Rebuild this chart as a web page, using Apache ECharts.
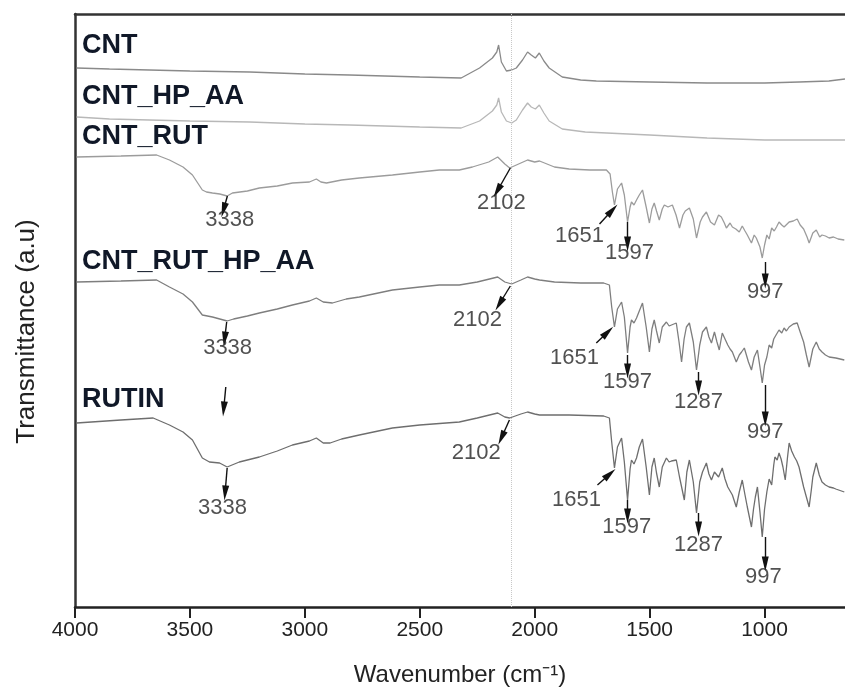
<!DOCTYPE html>
<html>
<head>
<meta charset="utf-8">
<script src="https://cdn.jsdelivr.net/npm/echarts@6/dist/echarts.min.js"></script>
<style>
  html, body { margin: 0; padding: 0; background: #fff; }
  #ftir { width: 845px; height: 695px; }
</style>
</head>
<body>
<div id="ftir"></div>
<script>
// spectra, [wavenumber, transmittance (a.u., stacked offset)]
var cnt = [
  [3993, 539], [3850, 538], [3676, 537], [3500, 536], [3240, 535], [3000, 533], [2805, 532],
  [2500, 530], [2320, 529], [2240, 539], [2184, 549], [2165, 555], [2157, 562], [2145, 545],
  [2123, 536], [2100, 537], [2080, 539], [2053, 547], [2031, 555], [2015, 552], [1997, 549],
  [1980, 554], [1960, 546], [1937, 539], [1880, 530], [1800, 527], [1732, 526], [1500, 525],
  [1250, 524], [1000, 524], [850, 525], [720, 526], [650, 528]
];
var cntHpAa = [
  [3993, 490], [3850, 488], [3676, 487], [3500, 486], [3240, 485], [3000, 483], [2805, 482],
  [2500, 480], [2320, 479], [2240, 486], [2184, 496], [2165, 502], [2157, 509], [2145, 495],
  [2123, 486], [2100, 484], [2080, 487], [2053, 497], [2031, 504], [2015, 500], [1997, 498],
  [1980, 502], [1960, 494], [1937, 486], [1880, 478], [1780, 475], [1500, 472], [1250, 469],
  [1000, 467], [800, 467], [650, 467]
];
var cntRut = [
  [3993, 450], [3800, 451], [3645, 452], [3589, 447], [3530, 440], [3489, 432], [3446, 417],
  [3428, 415], [3402, 414], [3370, 413], [3338, 411], [3315, 414], [3250, 416], [3198, 419],
  [3120, 421], [3054, 424], [2980, 425], [2950, 428], [2930, 425], [2906, 424], [2840, 427],
  [2763, 429], [2619, 432], [2500, 435], [2415, 437], [2328, 437], [2271, 440], [2200, 445],
  [2161, 450], [2130, 443], [2109, 439], [2070, 443], [2031, 447], [2000, 445], [1979, 446],
  [1914, 440], [1850, 438], [1760, 437], [1688, 437], [1672, 433], [1662, 415], [1653, 402],
  [1640, 418], [1622, 424], [1610, 412], [1596, 385], [1585, 400], [1579, 405], [1568, 402],
  [1557, 407], [1545, 412], [1531, 417], [1515, 400], [1501, 384], [1490, 398], [1480, 404],
  [1470, 396], [1458, 387], [1445, 398], [1436, 402], [1420, 400], [1401, 402], [1385, 392],
  [1370, 379], [1355, 392], [1345, 396], [1327, 399], [1310, 388], [1296, 369], [1280, 385],
  [1270, 390], [1253, 395], [1235, 385], [1218, 382], [1200, 392], [1188, 390], [1175, 384],
  [1166, 379], [1150, 384], [1140, 380], [1125, 378], [1110, 375], [1097, 381], [1085, 376],
  [1075, 372], [1057, 364], [1045, 372], [1036, 369], [1020, 360], [1010, 349], [1000, 362],
  [990, 372], [980, 368], [969, 379], [958, 376], [948, 380], [937, 385], [925, 382],
  [915, 380], [893, 385], [875, 386], [858, 388], [845, 382], [830, 378], [815, 370],
  [806, 364], [790, 374], [775, 377], [760, 370], [750, 372], [735, 371], [719, 369],
  [700, 370], [680, 368], [653, 367]
];
var cntRutHpAa = [
  [3993, 325], [3800, 326], [3645, 327], [3589, 320], [3530, 313], [3489, 305], [3446, 292],
  [3402, 290], [3370, 288], [3338, 286], [3310, 288], [3250, 291], [3198, 294], [3120, 298],
  [3054, 302], [2980, 306], [2950, 309], [2920, 305], [2880, 304], [2820, 308], [2763, 310],
  [2619, 317], [2500, 320], [2415, 322], [2328, 322], [2250, 325], [2161, 330], [2130, 325],
  [2100, 323], [2060, 327], [2031, 330], [2000, 328], [1979, 327], [1914, 325], [1800, 324],
  [1700, 324], [1675, 322], [1665, 300], [1653, 280], [1640, 298], [1622, 305], [1610, 290],
  [1596, 254], [1585, 280], [1579, 287], [1568, 284], [1557, 289], [1545, 296], [1531, 304],
  [1515, 280], [1501, 255], [1490, 278], [1480, 287], [1470, 276], [1458, 264], [1445, 280],
  [1427, 285], [1415, 281], [1405, 282], [1384, 284], [1372, 265], [1361, 245], [1350, 268],
  [1340, 280], [1327, 284], [1310, 265], [1296, 237], [1282, 262], [1270, 275], [1253, 280],
  [1242, 270], [1231, 264], [1218, 275], [1207, 265], [1197, 257], [1184, 274], [1172, 268],
  [1160, 262], [1150, 258], [1140, 255], [1123, 245], [1110, 252], [1100, 255], [1088, 259],
  [1070, 245], [1057, 237], [1045, 250], [1031, 257], [1020, 240], [1010, 224], [1000, 242],
  [990, 250], [980, 262], [969, 259], [960, 268], [950, 272], [937, 277], [925, 274],
  [915, 279], [905, 276], [893, 280], [875, 283], [858, 284], [845, 275], [830, 265],
  [818, 252], [806, 240], [790, 258], [775, 265], [762, 258], [750, 255], [735, 252],
  [719, 250], [690, 249], [653, 247]
];
var rutin = [
  [3993, 184], [3800, 187], [3660, 189], [3589, 182], [3530, 175], [3489, 167], [3446, 149],
  [3415, 145], [3371, 144], [3338, 140], [3285, 145], [3198, 150], [3120, 156], [3054, 162],
  [2980, 166], [2950, 169], [2920, 164], [2890, 164], [2840, 168], [2763, 172], [2619, 179],
  [2500, 182], [2328, 185], [2250, 189], [2161, 194], [2130, 190], [2109, 189], [2060, 193],
  [2031, 195], [2000, 193], [1979, 192], [1850, 192], [1700, 191], [1675, 189], [1665, 165],
  [1653, 139], [1640, 160], [1622, 169], [1610, 145], [1596, 107], [1585, 138], [1579, 147],
  [1568, 143], [1557, 149], [1545, 160], [1531, 168], [1515, 140], [1501, 112], [1490, 140],
  [1480, 149], [1470, 134], [1458, 120], [1445, 140], [1427, 149], [1415, 145], [1405, 146],
  [1384, 147], [1370, 130], [1349, 107], [1338, 135], [1327, 147], [1310, 125], [1296, 94],
  [1282, 125], [1270, 135], [1253, 144], [1242, 133], [1231, 127], [1218, 135], [1200, 130],
  [1184, 139], [1172, 128], [1160, 120], [1150, 116], [1140, 112], [1123, 100], [1110, 115],
  [1097, 127], [1085, 112], [1075, 100], [1057, 80], [1048, 98], [1040, 110], [1031, 120],
  [1020, 95], [1010, 70], [1000, 98], [990, 115], [980, 128], [969, 122], [960, 142],
  [955, 150], [945, 147], [937, 154], [928, 148], [920, 140], [910, 127], [900, 150],
  [893, 164], [882, 156], [870, 150], [860, 146], [850, 140], [840, 130], [830, 120],
  [818, 110], [806, 100], [796, 118], [790, 130], [775, 144], [762, 132], [750, 125],
  [735, 122], [719, 120], [700, 119], [690, 118], [653, 115]
];

var sampleNames = ['CNT', 'CNT_HP_AA', 'CNT_RUT', 'CNT_RUT_HP_AA', 'RUTIN'];
var xTicks = [4000, 3500, 3000, 2500, 2000, 1500, 1000];

// peak arrows [from wn, from y, to wn, to y] and their labels [wn, y, text]
var peakArrows = [
  [3337, 411, 3354, 397], [2106, 439, 2163, 416], [1718, 383, 1662, 397], [1596, 385, 1596, 363], [997, 345, 997, 326],
  [3340, 285, 3349, 268], [2106, 321, 2154, 303], [1732, 264, 1682, 275], [1596, 252, 1596, 236], [1287, 235, 1287, 219], [997, 222, 997, 188],
  [3344, 220, 3353, 198],
  [3338, 139, 3347, 114], [2110, 187, 2145, 169], [1727, 122, 1673, 133], [1596, 107, 1596, 91], [1287, 94, 1287, 78], [997, 70, 997, 43]
];
var peakLabels = [
  [3327, 387, '3338'], [2145, 404, '2102'], [1805, 371, '1651'], [1588, 354, '1597'], [997, 315, '997'],
  [3336, 259, '3338'], [2249, 287, '2102'], [1827, 249, '1651'], [1596, 225, '1597'], [1287, 205, '1287'], [997, 175, '997'],
  [3358, 99, '3338'], [2254, 154, '2102'], [1818, 107, '1651'], [1600, 80, '1597'], [1287, 62, '1287'], [1005, 30, '997']
];

var traceColors = ['#8a8a8a', '#b8b8b8', '#9c9c9c', '#7e7e7e', '#6e6e6e'];
var traces = [cnt, cntHpAa, cntRut, cntRutHpAa, rutin];
// where the sample names sit (px)
var nameTops = [46, 97, 137, 262, 400];

var chart = echarts.init(document.getElementById('ftir'));

var series = traces.map(function (d, i) {
  return {
    name: sampleNames[i],
    type: 'line',
    data: d,
    showSymbol: false,
    smooth: false,
    lineStyle: { color: traceColors[i], width: 1.3 },
    z: 3
  };
});

// dotted guide at 2102
series.push({
  type: 'line',
  data: [],
  markLine: {
    silent: true,
    symbol: ['none', 'none'],
    label: { show: false },
    lineStyle: { color: '#c8c8c8', type: 'dotted', width: 1 },
    data: [{ xAxis: 2102 }]
  }
});

// arrows
series.push({
  type: 'line',
  data: [],
  markLine: {
    silent: true,
    symbol: ['none', 'triangle'],
    symbolSize: [7, 15],
    label: { show: false },
    lineStyle: { color: '#111', type: 'solid', width: 1.4 },
    data: peakArrows.map(function (a) {
      return [{ coord: [a[0], a[1]] }, { coord: [a[2], a[3]] }];
    })
  },
  z: 5
});

// peak numbers
series.push({
  type: 'scatter',
  data: peakLabels,
  symbolSize: 1,
  itemStyle: { color: 'rgba(0,0,0,0)' },
  label: {
    show: true,
    position: 'inside',
    formatter: function (p) { return p.data[2]; },
    color: '#262626',
    fontSize: 22,
    fontFamily: 'Liberation Sans, Arial, sans-serif'
  },
  z: 6
});

var option = {
  animation: false,
  backgroundColor: '#fff',
  grid: { left: 75, right: 0, top: 14, bottom: 88 },
  xAxis: [
    {
      type: 'value',
      inverse: true,
      min: 650,
      max: 4000,
      name: 'Wavenumber (cm\u207B\u00B9)',
      nameLocation: 'middle',
      nameGap: 56,
      nameTextStyle: { fontSize: 24, color: '#222', fontFamily: 'Liberation Sans, Arial, sans-serif' },
      axisLine: { show: true, lineStyle: { color: '#222', width: 2.5 } },
      axisTick: { show: true, inside: false, length: 11, customValues: xTicks, lineStyle: { color: '#222', width: 2 } },
      axisLabel: {
        customValues: xTicks,
        margin: 13,
        fontSize: 21,
        color: '#222',
        fontFamily: 'Liberation Sans, Arial, sans-serif',
        formatter: function (v) { return String(v); }
      },
      splitLine: { show: false }
    },
    {
      type: 'value',
      position: 'top',
      inverse: true,
      min: 650,
      max: 4000,
      axisLine: { show: true, lineStyle: { color: '#333', width: 2.5 } },
      axisTick: { show: false },
      axisLabel: { show: false },
      splitLine: { show: false }
    }
  ],
  yAxis: {
    type: 'value',
    min: 0,
    max: 593,
    name: 'Transmittance (a.u)',
    nameLocation: 'middle',
    nameGap: 35,
    nameTextStyle: {
      fontSize: 26,
      color: '#222',
      fontFamily: 'Liberation Sans, Arial, sans-serif',
      padding: [0, 42, 0, 0]
    },
    axisLine: { show: true, lineStyle: { color: '#333', width: 2.5 } },
    axisTick: { show: false },
    axisLabel: { show: false },
    splitLine: { show: false }
  },
  graphic: sampleNames.map(function (n, i) {
    return {
      type: 'text',
      x: 82,
      y: nameTops[i],
      z: 10,
      style: {
        text: n,
        fill: '#101828',
        font: 'bold 27px "Liberation Sans", Arial, sans-serif',
        verticalAlign: 'middle'
      }
    };
  }),
  series: series
};

chart.setOption(option);
</script>
</body>
</html>
